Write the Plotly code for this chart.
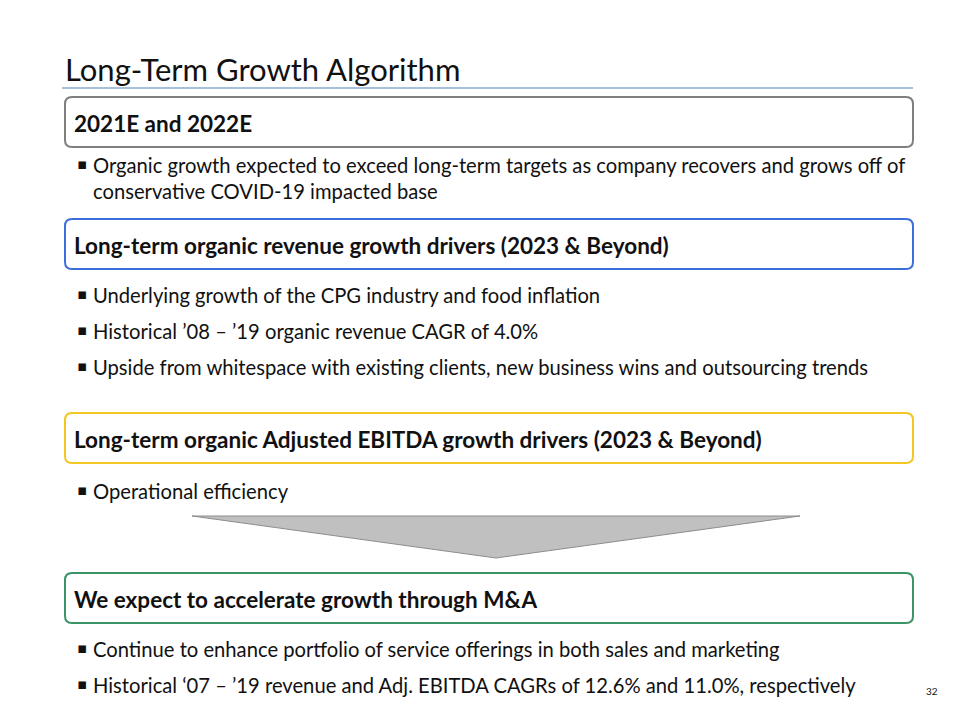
import plotly.graph_objects as go

# slide content
title = "Long-Term Growth Algorithm"

box_titles = [
    "2021E and 2022E",
    "Long-term organic revenue growth drivers (2023 & Beyond)",
    "Long-term organic Adjusted EBITDA growth drivers (2023 & Beyond)",
    "We expect to accelerate growth through M&A",
]
box_colors = ["#7f7f7f", "#3d6fdc", "#f2c623", "#3a9467"]

bullets = [
    ["Organic growth expected to exceed long-term targets as company recovers and grows off of<br>conservative COVID-19 impacted base"],
    ["Underlying growth of the CPG industry and food inflation",
     "Historical \u201908 \u2013 \u201919 organic revenue CAGR of 4.0%",
     "Upside from whitespace with existing clients, new business wins and outsourcing trends"],
    ["Operational efficiency"],
    ["Continue to enhance portfolio of service offerings in both sales and marketing",
     "Historical \u201807 \u2013 \u201919 revenue and Adj. EBITDA CAGRs of 12.6% and 11.0%, respectively"],
]
page_number = "32"

# layout (pixel positions on the slide)
box_tops = [97, 219, 413, 573]
box_h = 50
box_x0, box_x1 = 65, 913
bullet_rows = [[164], [294, 330, 366], [490], [648, 684]]

FONT = "Lato"
# page body adds an 8px margin; offset the axes so pixel coords line up
OFF = 8

fig = go.Figure()
shapes = []
annotations = []


def rounded_rect(x0, y0, x1, y1, r):
    return (f"M {x0+r},{y0} L {x1-r},{y0} Q {x1},{y0} {x1},{y0+r} "
            f"L {x1},{y1-r} Q {x1},{y1} {x1-r},{y1} L {x0+r},{y1} "
            f"Q {x0},{y1} {x0},{y1-r} L {x0},{y0+r} Q {x0},{y0} {x0+r},{y0} Z")


# title and rule
annotations.append(dict(x=63, y=69, text=title, showarrow=False, xanchor="left",
                        yanchor="middle", font=dict(family=FONT, size=31, color="#111111")))
shapes.append(dict(type="line", x0=62, x1=913, y0=88, y1=88,
                   line=dict(color="#4f81b5", width=1.2)))

for i, head in enumerate(box_titles):
    top = box_tops[i]
    shapes.append(dict(type="path", path=rounded_rect(box_x0, top, box_x1, top + box_h, 7),
                       line=dict(color=box_colors[i], width=2), fillcolor="white"))
    annotations.append(dict(x=72, y=top + box_h / 2 + 1, text="<b>" + head + "</b>",
                            showarrow=False, xanchor="left", yanchor="middle",
                            font=dict(family=FONT, size=22.5, color="#111111")))
    for text, y in zip(bullets[i], bullet_rows[i]):
        annotations.append(dict(x=75, y=y, text="\u25aa", showarrow=False, xanchor="left",
                                yanchor="middle", font=dict(family="DejaVu Sans", size=15, color="#111111")))
        annotations.append(dict(x=91, y=y - 13, text=text, showarrow=False, xanchor="left",
                                yanchor="top", align="left",
                                font=dict(family=FONT, size=20.2, color="#111111")))

# funnel arrow between sections
shapes.append(dict(type="path", path="M 192,516 L 800,516 L 496,558 Z",
                   fillcolor="#c0c0c0", line=dict(color="#8c8c8c", width=1)))

annotations.append(dict(x=932, y=691, text=page_number, showarrow=False, xanchor="center",
                        yanchor="middle", font=dict(family=FONT, size=10, color="#111111")))

fig.update_layout(
    width=960, height=720,
    margin=dict(l=0, r=0, t=0, b=0),
    paper_bgcolor="white", plot_bgcolor="white",
    xaxis=dict(range=[OFF, 960 + OFF], visible=False, fixedrange=True),
    yaxis=dict(range=[720 + OFF, OFF], visible=False, fixedrange=True),
    shapes=shapes, annotations=annotations,
    showlegend=False,
)

fig.write_html("out.html", config={"displayModeBar": False})
